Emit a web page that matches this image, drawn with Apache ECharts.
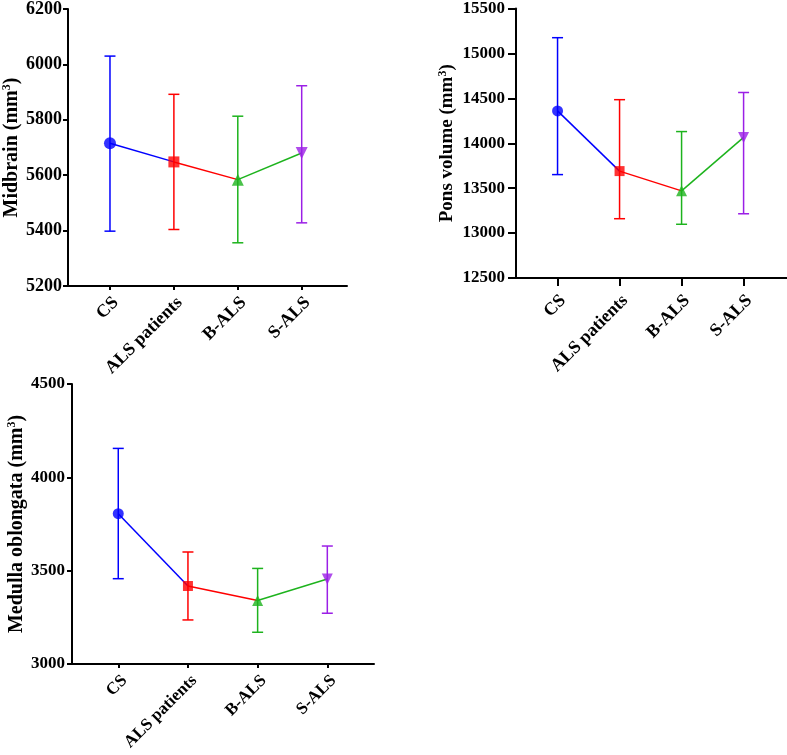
<!DOCTYPE html>
<html>
<head>
<meta charset="utf-8">
<script src="https://cdn.jsdelivr.net/npm/echarts@6/dist/echarts.min.js"></script>
<style>html,body{margin:0;padding:0;background:#fff}#c{width:787px;height:755px}</style>
</head>
<body>
<div id="c"></div>
<script>
// ---- data ----
const categories = ['CS', 'ALS patients', 'B-ALS', 'S-ALS'];
const groupColors = ['#0000ff', '#ff0000', '#1db31d', '#9b1fe6'];
const groupSymbols = ['circle', 'rect', 'triangle', 'triangle'];
const groupSymbolRotate = [0, 0, 0, 180];

const midbrainMean = [5715, 5648, 5584, 5680];
const midbrainLow  = [5398, 5404, 5356, 5428];
const midbrainHigh = [6030, 5892, 5813, 5923];

const ponsMean = [14360, 13690, 13470, 14065];
const ponsLow  = [13651, 13160, 13098, 13215];
const ponsHigh = [15175, 14485, 14130, 14565];

const medullaMean = [3805, 3418, 3340, 3455];
const medullaLow  = [3457, 3236, 3170, 3272];
const medullaHigh = [4155, 3600, 3512, 3632];

const midbrainTicks = [5200, 5400, 5600, 5800, 6000, 6200];
const ponsTicks = [12500, 13000, 13500, 14000, 14500, 15000, 15500];
const medullaTicks = [3000, 3500, 4000, 4500];

// ---- chart ----
const FONT = '"Liberation Serif", "Times New Roman", serif';
const chart = echarts.init(document.getElementById('c'), null, {renderer: 'canvas'});

const panels = [
  {title: 'Midbrain (mm', mean: midbrainMean, low: midbrainLow, high: midbrainHigh, ticks: midbrainTicks,
   grid: {left: 68, top: 8, width: 279, height: 278}, xMin: -0.657, xMax: 3.709,
   fs: 18, xfs: 18, xMargin: 14, nameFs: 20, nameGap: 44, xTick: 4, yTick: 5, yMargin: 6, sym: 12},
  {title: 'Pons volume (mm', mean: ponsMean, low: ponsLow, high: ponsHigh, ticks: ponsTicks,
   grid: {left: 516, top: 8, width: 272, height: 270}, xMin: -0.67, xMax: 3.70,
   fs: 17, xfs: 18, xMargin: 20, nameFs: 19, nameGap: 58, xTick: 8, yTick: 8, yMargin: 11, sym: 11},
  {title: 'Medulla oblongata (mm', mean: medullaMean, low: medullaLow, high: medullaHigh, ticks: medullaTicks,
   grid: {left: 72, top: 384, width: 302, height: 280}, xMin: -0.664, xMax: 3.67,
   fs: 17, xfs: 17, xMargin: 14, nameFs: 20, nameGap: 39, xTick: 4, yTick: 5, yMargin: 7, sym: 11}
];
const LABEL_SHIFT = 0.09; // small rightward nudge of rotated category labels

const grids = [], xAxes = [], yAxes = [], series = [];
panels.forEach((p, k) => {
  grids.push(Object.assign({containLabel: false}, p.grid));
  const tickIdx = categories.map((c, i) => i);
  xAxes.push({
    type: 'value', gridIndex: k, min: p.xMin, max: p.xMax,
    splitLine: {show: false},
    axisLine: {onZero: false, lineStyle: {color: '#000', width: 2}},
    axisTick: {show: true, length: p.xTick, customValues: tickIdx, lineStyle: {color: '#000', width: 2}},
    axisLabel: {customValues: tickIdx.map(i => i + LABEL_SHIFT), rotate: 45, margin: p.xMargin, color: '#000',
      fontFamily: FONT, fontWeight: 'bold', fontSize: p.xfs,
      formatter: v => categories[Math.round(v)]}
  });
  const tmin = p.ticks[0], tmax = p.ticks[p.ticks.length - 1];
  yAxes.push({
    type: 'value', gridIndex: k, min: tmin, max: tmax, interval: p.ticks[1] - p.ticks[0],
    splitLine: {show: false},
    axisLine: {show: true, onZero: false, lineStyle: {color: '#000', width: 2}},
    axisTick: {show: true, length: p.yTick, lineStyle: {color: '#000', width: 2}},
    axisLabel: {margin: p.yMargin, color: '#000', fontFamily: FONT, fontWeight: 'bold', fontSize: p.fs,
      formatter: v => String(v)},
    name: '{b|' + p.title + '}{s|3}{b|)}',
    nameLocation: 'middle', nameRotate: 90, nameGap: p.nameGap,
    nameTextStyle: {
      rich: {
        b: {fontFamily: FONT, fontWeight: 'bold', fontSize: p.nameFs, color: '#000', lineHeight: p.nameFs + 2},
        s: {fontFamily: FONT, fontWeight: 'bold', fontSize: Math.round(p.nameFs * 0.62), color: '#000', verticalAlign: 'top', lineHeight: p.nameFs + 2}
      }
    }
  });
  // connecting line segments, each coloured by its starting group
  for (let i = 0; i < categories.length - 1; i++) {
    series.push({
      type: 'line', xAxisIndex: k, yAxisIndex: k, z: 2,
      data: [[i, p.mean[i]], [i + 1, p.mean[i + 1]]],
      symbol: 'none', silent: true,
      lineStyle: {color: groupColors[i], width: 1.5}
    });
  }
  // error bars
  series.push({
    type: 'custom', xAxisIndex: k, yAxisIndex: k, z: 3,
    data: categories.map((c, i) => [i, p.low[i], p.high[i]]),
    renderItem: function (params, api) {
      const x = api.value(0);
      const pl = api.coord([x, api.value(1)]);
      const ph = api.coord([x, api.value(2)]);
      const w = 5.5;
      const st = {stroke: groupColors[params.dataIndex], lineWidth: 1.5};
      return {type: 'group', children: [
        {type: 'line', shape: {x1: ph[0], y1: ph[1], x2: pl[0], y2: pl[1]}, style: st},
        {type: 'line', shape: {x1: ph[0] - w, y1: ph[1], x2: ph[0] + w, y2: ph[1]}, style: st},
        {type: 'line', shape: {x1: pl[0] - w, y1: pl[1], x2: pl[0] + w, y2: pl[1]}, style: st}
      ]};
    }
  });
  // markers
  series.push({
    type: 'scatter', xAxisIndex: k, yAxisIndex: k, z: 4,
    data: categories.map((c, i) => ({
      value: [i, p.mean[i]],
      symbol: groupSymbols[i],
      symbolRotate: groupSymbolRotate[i],
      symbolSize: groupSymbols[i] === 'rect' ? p.sym - 1 : p.sym,
      itemStyle: {color: groupColors[i]}
    }))
  });
});

chart.setOption({
  animation: false,
  backgroundColor: '#fff',
  grid: grids, xAxis: xAxes, yAxis: yAxes, series: series
});
</script>
</body>
</html>
